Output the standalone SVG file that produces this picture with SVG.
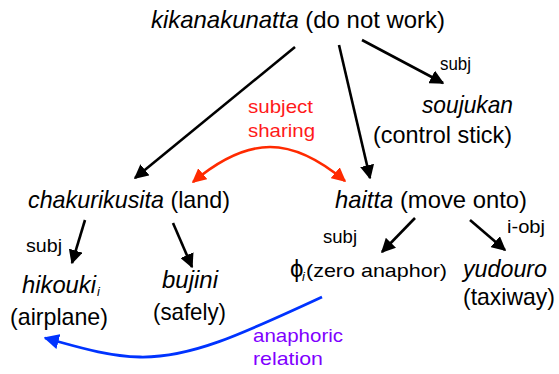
<svg xmlns="http://www.w3.org/2000/svg" width="559" height="374" viewBox="0 0 559 374">
<defs>
<marker id="ab" viewBox="0 0 10 10" refX="9" refY="5" markerWidth="5.5" markerHeight="5.5" orient="auto" markerUnits="strokeWidth"><path d="M0,0 L10,5 L0,10 z" fill="#000"/></marker>
<marker id="ar" viewBox="0 0 10 10" refX="9" refY="5" markerWidth="5.5" markerHeight="5.5" orient="auto-start-reverse" markerUnits="strokeWidth"><path d="M0,0 L10,5 L0,10 z" fill="#ff2a00"/></marker>
<marker id="abl" viewBox="0 0 10 10" refX="9" refY="5" markerWidth="5.5" markerHeight="5.5" orient="auto" markerUnits="strokeWidth"><path d="M0,0 L10,5 L0,10 z" fill="#0033ff"/></marker>
<style>
text{font-family:"Liberation Sans",Arial,sans-serif;font-size:24px;fill:#000}
.i{font-style:italic}
.s{font-size:19px}
.sub{font-size:13px;font-style:italic}
.red{fill:#ff1a1a}
.vio{fill:#7f00ff}
.e{stroke:#000;stroke-width:2.6;fill:none;marker-end:url(#ab)}
</style>
</defs>
<g id="connectors">
<line class="e" x1="295" y1="47" x2="135" y2="178"/>
<line class="e" x1="339" y1="45" x2="370" y2="178"/>
<line class="e" x1="362" y1="40" x2="443" y2="83"/>
<line class="e" x1="85" y1="220" x2="72" y2="263"/>
<line class="e" x1="173" y1="223" x2="192" y2="267"/>
<line class="e" x1="415" y1="218" x2="382" y2="252"/>
<line class="e" x1="470" y1="220" x2="505" y2="250"/>
<path d="M193,182 C225,155 250,147 270,147 C295,147 320,160 345,181" stroke="#ff2a00" stroke-width="2.6" fill="none" marker-start="url(#ar)" marker-end="url(#ar)"/>
<path d="M322,297 C240,335 190,358 140,357 C105,356 75,346 45,338" stroke="#0033ff" stroke-width="2.8" fill="none" marker-end="url(#abl)"/>
</g>
<g id="kikanakunatta"><text x="298" y="28" text-anchor="middle" textLength="294" lengthAdjust="spacingAndGlyphs"><tspan class="i">kikanakunatta</tspan> (do not work)</text></g>
<g id="label-subj1"><text class="s" x="440" y="70" textLength="31" lengthAdjust="spacingAndGlyphs">subj</text></g>
<g id="soujukan"><text class="i" x="422" y="113" textLength="91" lengthAdjust="spacingAndGlyphs">soujukan</text><text x="373" y="143" textLength="139" lengthAdjust="spacingAndGlyphs">(control stick)</text></g>
<g id="subject-sharing"><text class="s red" x="248" y="113" textLength="65" lengthAdjust="spacingAndGlyphs">subject</text><text class="s red" x="248" y="137" textLength="67" lengthAdjust="spacingAndGlyphs">sharing</text></g>
<g id="chakurikusita"><text x="28" y="208" textLength="202" lengthAdjust="spacingAndGlyphs"><tspan class="i">chakurikusita</tspan> (land)</text></g>
<g id="haitta"><text x="335" y="208" textLength="192" lengthAdjust="spacingAndGlyphs"><tspan class="i">haitta</tspan> (move onto)</text></g>
<g id="label-subj2"><text class="s" x="26" y="252" textLength="36" lengthAdjust="spacingAndGlyphs">subj</text></g>
<g id="hikouki"><text class="i" x="22" y="293" textLength="74" lengthAdjust="spacingAndGlyphs">hikouki</text><text class="sub" x="97" y="296">i</text><text x="10" y="325" textLength="98" lengthAdjust="spacingAndGlyphs">(airplane)</text></g>
<g id="bujini"><text class="i" x="162" y="288" textLength="56" lengthAdjust="spacingAndGlyphs">bujini</text><text x="153" y="320" textLength="73" lengthAdjust="spacingAndGlyphs">(safely)</text></g>
<g id="label-subj3"><text class="s" x="323" y="243" textLength="34" lengthAdjust="spacingAndGlyphs">subj</text></g>
<g id="label-iobj"><text class="s" x="507" y="233" textLength="38" lengthAdjust="spacingAndGlyphs">i-obj</text></g>
<g id="zero-anaphor"><text x="290" y="277">ϕ</text><text class="sub" x="302" y="281">i</text><text class="s" x="306" y="277" textLength="141" lengthAdjust="spacingAndGlyphs">(zero anaphor)</text></g>
<g id="yudouro"><text class="i" x="463" y="277" textLength="84" lengthAdjust="spacingAndGlyphs">yudouro</text><text x="463" y="305" textLength="92" lengthAdjust="spacingAndGlyphs">(taxiway)</text></g>
<g id="anaphoric-relation"><text class="s vio" x="253" y="342" textLength="90" lengthAdjust="spacingAndGlyphs">anaphoric</text><text class="s vio" x="253" y="365" textLength="70" lengthAdjust="spacingAndGlyphs">relation</text></g>
</svg>
